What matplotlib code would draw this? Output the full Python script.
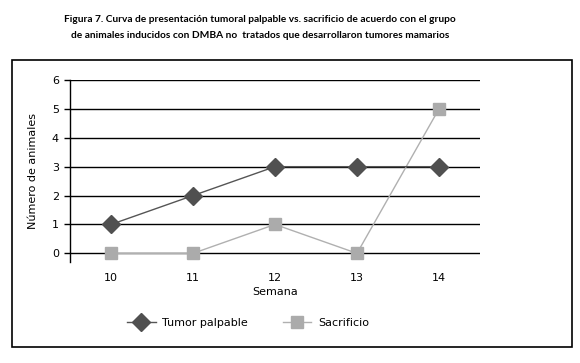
import matplotlib
matplotlib.use('Agg')
from matplotlib import pyplot as plt
from matplotlib.patches import Rectangle

# Data
semanas = [10, 11, 12, 13, 14]
tumor_palpable = [1, 2, 3, 3, 3]
sacrificio = [0, 0, 1, 0, 5]
yticks = [0, 1, 2, 3, 4, 5, 6]

titulo = ("Figura 7. Curva de presentación tumoral palpable vs. sacrificio de acuerdo con el grupo\n"
          "de animales inducidos con DMBA no  tratados que desarrollaron tumores mamarios")

fig = plt.figure(figsize=(5.8, 3.63), dpi=100)

# Outer frame around chart
fig.patches.append(Rectangle((12/580, 1-347/363), 560/580, 287/363, transform=fig.transFigure,
                             fill=False, edgecolor='black', linewidth=1.2))

fig.text(260/580, 1-27/363, titulo, ha='center', va='center', fontsize=7.3,
         fontweight='bold', family='Lato', linespacing=2.0)

ax = fig.add_axes([70/580, 1-262/363, 410/580, 182/363])
ax.set_xlim(9.5, 14.5)
ax.set_ylim(-0.3, 6)

for v in yticks:
    ax.axhline(v, color='black', linewidth=1, zorder=1)

ax.plot(semanas, tumor_palpable, color='#555555', linewidth=1, marker='D', markersize=9,
        markerfacecolor='#505050', markeredgecolor='#505050', label='Tumor palpable', zorder=3, clip_on=False)
ax.plot(semanas, sacrificio, color='#b0b0b0', linewidth=1, marker='s', markersize=9,
        markerfacecolor='#ababab', markeredgecolor='#ababab', label='Sacrificio', zorder=2, clip_on=False)

ax.set_xticks(semanas)
ax.set_yticks(yticks)
ax.tick_params(axis='x', length=0, labelsize=8, pad=8)
ax.tick_params(axis='y', length=4, width=1, direction='out', labelsize=8, pad=4)
for s in ['top', 'right', 'bottom']:
    ax.spines[s].set_visible(False)
ax.spines['left'].set_linewidth(1)

ax.set_xlabel('Semana', fontsize=8, labelpad=3)
ax.set_ylabel('Número de animales', fontsize=8, labelpad=10)

fig.legend(loc='center', bbox_to_anchor=(248/580, 1-323/363), ncol=2, frameon=False,
           fontsize=8, handlelength=2.6, columnspacing=3.1, handletextpad=0.6)

fig.savefig('out.png', dpi=100)
